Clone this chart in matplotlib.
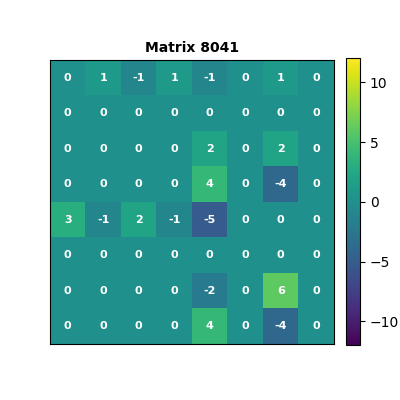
import numpy as np
import matplotlib
matplotlib.use("Agg")
import matplotlib.pyplot as plt

# matrix values read row by row
row0 = [0, 1, -1, 1, -1, 0, 1, 0]
row1 = [0, 0, 0, 0, 0, 0, 0, 0]
row2 = [0, 0, 0, 0, 2, 0, 2, 0]
row3 = [0, 0, 0, 0, 4, 0, -4, 0]
row4 = [3, -1, 2, -1, -5, 0, 0, 0]
row5 = [0, 0, 0, 0, 0, 0, 0, 0]
row6 = [0, 0, 0, 0, -2, 0, 6, 0]
row7 = [0, 0, 0, 0, 4, 0, -4, 0]
title = "Matrix 8041"
vlim = 12

mat = np.array([row0, row1, row2, row3, row4, row5, row6, row7])

fig = plt.figure(figsize=(4, 4), dpi=100)
ax = fig.add_axes([0.125, 0.14, 0.71, 0.71])
im = ax.imshow(mat, cmap="viridis", vmin=-vlim, vmax=vlim)
for i in range(mat.shape[0]):
    for j in range(mat.shape[1]):
        ax.text(j, i, str(mat[i, j]), ha="center", va="center",
                color="white", fontsize=8, fontweight="bold")
ax.set_xticks([])
ax.set_yticks([])
ax.set_title(title, fontsize=10, fontweight="bold")

cax = fig.add_axes([0.865, 0.137, 0.035, 0.717])
cb = fig.colorbar(im, cax=cax)
cb.set_ticks([-10, -5, 0, 5, 10])

fig.savefig("out.png", dpi=100)
